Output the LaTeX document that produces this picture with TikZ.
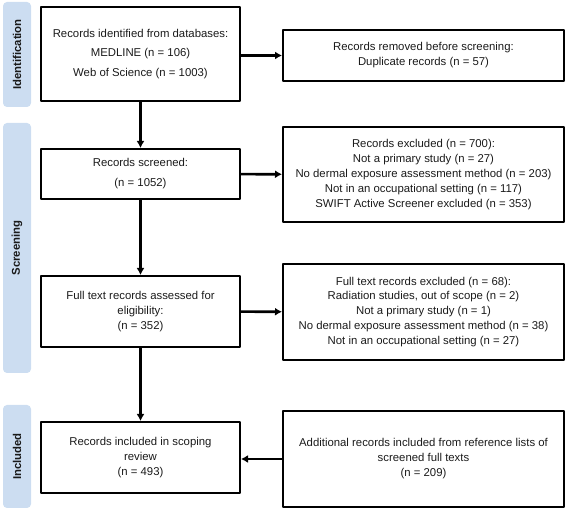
\documentclass[tikz,border=0pt]{standalone}
\usepackage{xcolor}
\usepackage{fontspec}
\setmainfont{Liberation Sans}
\usepackage{tikz}
\usetikzlibrary{arrows.meta,shapes}

\definecolor{bandblue}{HTML}{CCDDF1}
\definecolor{txtgray}{HTML}{1A1A1A}

\begin{document}
\begin{tikzpicture}[>={Latex[length=7bp,width=8bp]}, join=bevel]
 \tikzstyle{every node}=[text=txtgray, font=\fontsize{11.4}{15}\selectfont]
 \tikzstyle{stage}=[fill=bandblue, rounded corners=4bp, minimum width=28bp, inner sep=0pt]
 \tikzstyle{main}=[draw=black, line width=2bp, minimum width=199bp, align=center, inner sep=2bp]
 \tikzstyle{side}=[draw=black, line width=2bp, minimum width=281bp, align=center, inner sep=2bp]
 \tikzstyle{flow}=[->, line width=2.6bp]
 \useasboundingbox (0bp,0bp) rectangle (566bp,511bp);

 % stage bands on the left
 \node (identband) at (17bp,456.5bp) [stage, minimum height=105bp] {};
 \node (screenband) at (17bp,263bp) [stage, minimum height=250bp] {};
 \node (inclband) at (17bp,54.5bp) [stage, minimum height=103bp] {};
 \node (identlabel) at (identband) [rotate=90, font=\fontsize{11.4}{14}\selectfont\bfseries] {Identification};
 \node (screenlabel) at (screenband) [rotate=90, font=\fontsize{11.4}{14}\selectfont\bfseries] {Screening};
 \node (incllabel) at (inclband) [rotate=90, font=\fontsize{11.4}{14}\selectfont\bfseries] {Included};

 % main column
 \node (A) at (140.5bp,457bp) [main, minimum height=94bp, font=\fontsize{11.4}{20}\selectfont]
 	{Records identified from databases:\\MEDLINE (n = 106)\\Web of Science (n = 1003)};
 \node (B) at (140.5bp,337bp) [main, minimum height=50bp, font=\fontsize{11.4}{20}\selectfont]
 	{Records screened:\\(n = 1052)};
 \node (C) at (140.5bp,199.5bp) [main, minimum height=71bp]
 	{Full text records assessed for\\eligibility:\\(n = 352)};
 \node (D) at (140.5bp,53.5bp) [main, minimum height=71bp]
 	{Records included in scoping\\review\\(n = 493)};

 % right column
 \node (Aout) at (423.5bp,455.5bp) [side, minimum height=51bp]
 	{Records removed before screening:\\Duplicate records (n = 57)};
 \node (Bout) at (423.5bp,336.5bp) [side, minimum height=95bp]
 	{Records excluded (n = 700):\\Not a primary study (n = 27)\\No dermal exposure assessment method (n = 203)\\Not in an occupational setting (n = 117)\\SWIFT Active Screener excluded (n = 353)};
 \node (Cout) at (423.5bp,199bp) [side, minimum height=96bp]
 	{Full text records excluded (n = 68):\\Radiation studies, out of scope (n = 2)\\Not a primary study (n = 1)\\No dermal exposure assessment method (n = 38)\\Not in an occupational setting (n = 27)};
 \node (Din) at (423.5bp,52bp) [side, minimum height=96bp]
 	{Additional records included from reference lists of\\screened full texts\\(n = 209)};

 \draw [flow] (A) to (B);
 \draw [flow] (B) to (C);
 \draw [flow] (C) to (D);
 \draw [flow] (A.east |- Aout) to (Aout);
 \draw [flow] (B) to (Bout);
 \draw [flow] (C) to (Cout);
 \draw [flow] (Din) to (D.east |- Din);

\end{tikzpicture}
\end{document}
